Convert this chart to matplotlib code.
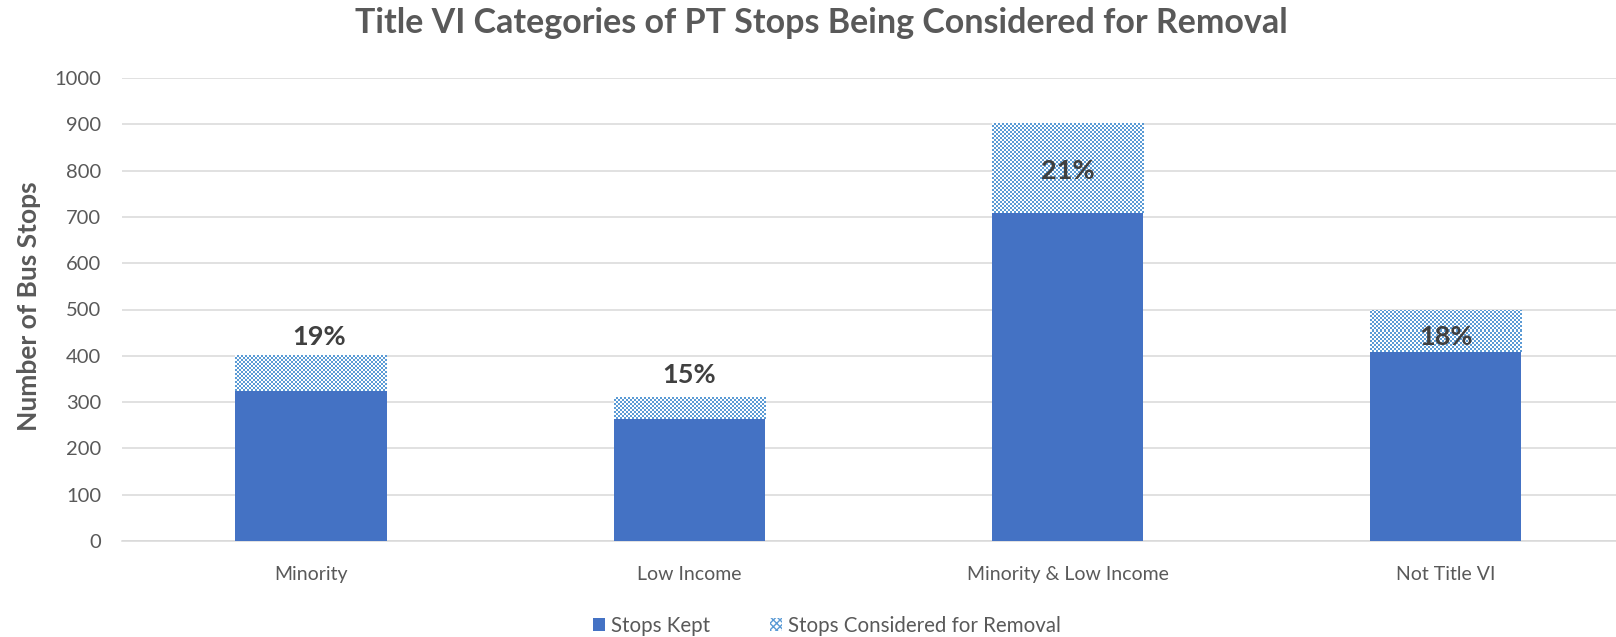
import numpy as np
import matplotlib
matplotlib.use("Agg")
import matplotlib.pyplot as plt
from matplotlib.patches import Patch

categories = ["Minority", "Low Income", "Minority & Low Income", "Not Title VI"]
stops_kept = [325, 263, 708, 408]
stops_removal = [76, 47, 194, 91]
pct_labels = ["19%", "15%", "21%", "18%"]
label_y = [441, 358, 799, 440]      # label positions (axis units)
label_dx = [0.02, 0.0, 0.0, 0.0]    # small horizontal nudges (category units)
yticks = list(range(0, 1001, 100))

plt.rcParams['font.family'] = ['Lato', 'DejaVu Sans']
plt.rcParams['hatch.linewidth'] = 1.0

W, H = 1616, 637
fig = plt.figure(figsize=(W / 100, H / 100), dpi=100)
ax = fig.add_axes([122 / W, 1 - 541 / H, 1512.8 / W, (541 - 78) / H])

x = np.arange(len(categories))
w = 0.40
kept_color = "#4472C4"
rem_color = "#5B9BD5"

ax.set_xlim(-0.5, len(categories) - 0.5)
ax.set_ylim(0, 1000)

ax.bar(x, stops_kept, width=w, color=kept_color, zorder=3)
rem_bars = ax.bar(x, stops_removal, bottom=stops_kept, width=w,
                  facecolor="none", edgecolor="none", zorder=3)

# checkered fill for the removal segments
fig.canvas.draw()
rgb_b = np.array(matplotlib.colors.to_rgb(rem_color))
for r in rem_bars:
    x0, y0 = r.get_x(), r.get_y()
    x1, y1 = x0 + r.get_width(), y0 + r.get_height()
    (px0, py0), (px1, py1) = ax.transData.transform([(x0, y0), (x1, y1)])
    nx = max(int(round(abs(px1 - px0) / 2)), 1)
    ny = max(int(round(abs(py1 - py0) / 2)), 1)
    ii, jj = np.indices((ny, nx))
    chk = (ii + jj) % 2
    img = np.ones((ny, nx, 3))
    img[chk == 1] = rgb_b
    im = ax.imshow(img, extent=(x0, x1, y0, y1), aspect='auto',
                   interpolation='nearest', zorder=3)
    im.set_clip_path(r)
ax.set_xlim(-0.5, len(categories) - 0.5)
ax.set_ylim(0, 1000)

for xi, t, yy, dx in zip(x, pct_labels, label_y, label_dx):
    ax.text(xi + dx, yy, t, ha='center', va='center', fontsize=19.5,
            fontweight='bold', color="#404040", zorder=5)

ax.set_yticks(yticks)
ax.yaxis.grid(True, color="#D9D9D9", linewidth=1.1, zorder=0)
ax.set_axisbelow(True)
for s in ["top", "right", "left"]:
    ax.spines[s].set_visible(False)
ax.spines["bottom"].set_color("#D9D9D9")
ax.spines["bottom"].set_linewidth(1.1)
ax.tick_params(axis='y', length=0, pad=15, labelsize=14.5, labelcolor="#595959")
ax.tick_params(axis='x', length=0, pad=18, labelsize=14, labelcolor="#595959")
ax.set_xticks(x)
ax.set_xticklabels(categories)

fig.text(29 / W, 1 - 306.6 / H, "Number of Bus Stops", rotation=90,
         ha='center', va='center', fontsize=19, fontweight='bold',
         color="#595959")

fig.text(821 / W, 1 - 23 / H,
         "Title VI Categories of PT Stops Being Considered for Removal",
         ha='center', va='center', fontsize=24.5, fontweight='bold',
         color="#595959")

handles = [Patch(facecolor=kept_color, edgecolor='none', label="Stops Kept"),
           Patch(facecolor="white", edgecolor=rem_color, hatch='xxxxx',
                 linewidth=0, label="Stops Considered for Removal")]
leg = fig.legend(handles=handles, loc='center',
                 bbox_to_anchor=(827 / W, 1 - 625.5 / H),
                 ncol=2, frameon=False, fontsize=14.8, handlelength=0.6,
                 handleheight=0.6, handletextpad=0.3, columnspacing=2.9,
                 borderpad=0)
for t in leg.get_texts():
    t.set_color("#595959")

fig.savefig("out.png", dpi=100)
